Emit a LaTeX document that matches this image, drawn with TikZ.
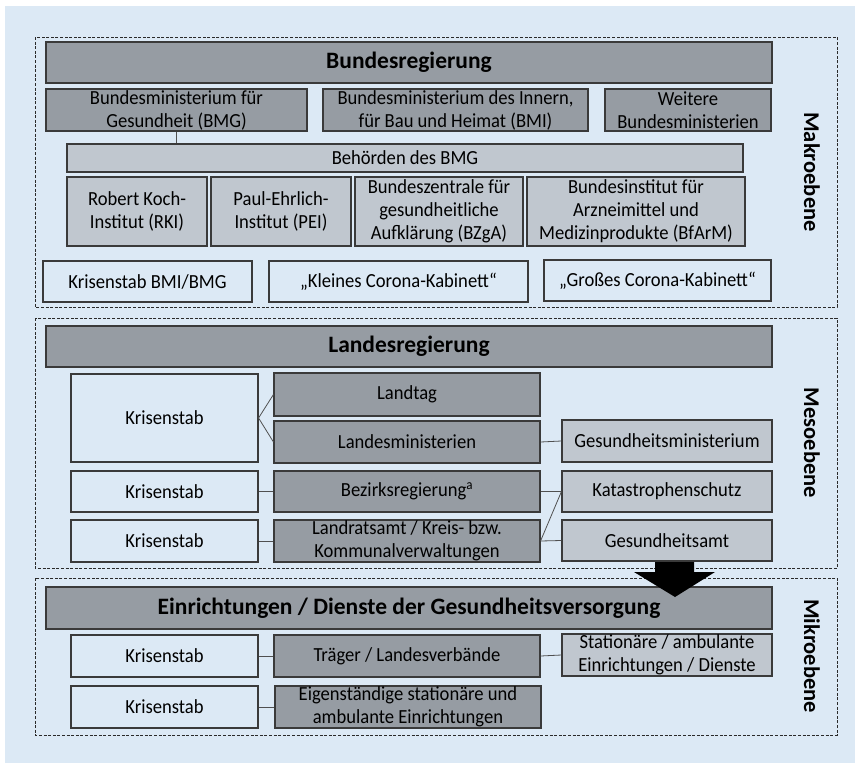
\documentclass[tikz,border=0pt]{standalone}
\usepackage{fontspec}
\setmainfont{Carlito}
\newfontfamily\bodyfont[FakeStretch=0.93]{Carlito}
\definecolor{bgc}{HTML}{DCE9F5}
\definecolor{darkc}{HTML}{969CA3}
\definecolor{lightc}{HTML}{C0C7CF}
\definecolor{bordc}{HTML}{3A3A3A}
\definecolor{framec}{HTML}{2A2A2A}
\definecolor{conc}{HTML}{505050}
\newcommand\fsbody{\bodyfont\fontsize{20}{23}\selectfont}
\newcommand\fshead{\fontsize{23.5}{28}\selectfont\bfseries}
\newcommand\fslab{\fontsize{22.5}{27}\selectfont\bfseries}
\tikzset{
  bx/.style={draw=bordc, line width=1.1pt, inner sep=0pt, align=center, font=\fsbody},
  dk/.style={bx, fill=darkc},
  lt/.style={bx, fill=lightc},
  wt/.style={bx},
  hd/.style={dk, font=\fshead},
  frame/.style={draw=framec, line width=0.9pt, dash pattern=on 3pt off 1.6pt},
  lbl/.style={font=\fslab, rotate=-90, inner sep=0pt},
  con/.style={draw=conc, line width=0.8pt},
}
\begin{document}
\begin{tikzpicture}[x=1pt, y=-1pt]
\useasboundingbox (0,0) rectangle (855,763);
\fill[bgc] (5,6) rectangle (855,763);
% frames
\draw[frame] (35,37) rectangle (837,307);
\draw[frame] (35,318) rectangle (837,568);
\draw[frame] (35,578) rectangle (837,735);
% Makroebene
\node[hd, minimum width=726pt, minimum height=41pt] (bund) at (409,62.5) {Bundesregierung};
\node[dk, minimum width=261pt, minimum height=42pt] (bmg) at (176.5,110) {Bundesministerium für\\Gesundheit (BMG)};
\node[dk, minimum width=265pt, minimum height=42pt] (bmi) at (455.5,110) {Bundesministerium des Innern,\\für Bau und Heimat (BMI)};
\node[dk, minimum width=166pt, minimum height=42pt] (weit) at (688,110) {Weitere\\Bundesministerien};
\node[lt, minimum width=676pt, minimum height=28pt] (beh) at (405,158) {Behörden des BMG};
\node[lt, minimum width=140pt, minimum height=69pt] (rki) at (137,211.5) {Robert Koch-\\Institut (RKI)};
\node[lt, minimum width=140pt, minimum height=69pt] (pei) at (281,211.5) {Paul-Ehrlich-\\Institut (PEI)};
\node[lt, minimum width=168pt, minimum height=69pt] (bzga) at (439,211.5) {Bundeszentrale für\\gesundheitliche\\Aufklärung (BZgA)};
\node[lt, minimum width=218pt, minimum height=69pt] (bfarm) at (636,211.5) {Bundesinstitut für\\Arzneimittel und\\Medizinprodukte (BfArM)};
\node[wt, minimum width=209pt, minimum height=41pt] (kbmi) at (147.5,281.5) {Krisenstab BMI/BMG};
\node[wt, minimum width=259pt, minimum height=41pt] (klein) at (398.5,281.5) {„Kleines Corona-Kabinett“};
\node[wt, minimum width=227pt, minimum height=41pt] (gross) at (657.5,280.5) {„Großes Corona-Kabinett“};
\node[lbl] (makro) at (812,172) {Makroebene};
\draw[con] (bmg.south) -- (bmg.south |- beh.north);
% Mesoebene
\node[hd, minimum width=726pt, minimum height=41pt] (land) at (409,346.5) {Landesregierung};
\node[wt, minimum width=187pt, minimum height=88pt] (kr1) at (164.5,418) {Krisenstab};
\node[dk, minimum width=266pt, minimum height=43pt] (ltag) at (407,394.5) {Landtag};
\node[dk, minimum width=266pt, minimum height=42pt] (lmin) at (407,442) {Landesministerien};
\node[wt, minimum width=187pt, minimum height=41pt] (kr2) at (164.5,491.5) {Krisenstab};
\node[dk, minimum width=266pt, minimum height=41pt] (bez) at (407,491.5) {Bezirksregierung\textsuperscript{a}};
\node[wt, minimum width=187pt, minimum height=42pt] (kr3) at (164.5,541) {Krisenstab};
\node[dk, minimum width=266pt, minimum height=42pt] (lrat) at (407,541) {Landratsamt / Kreis- bzw.\\Kommunalverwaltungen};
\node[lt, minimum width=210pt, minimum height=42pt] (gmin) at (667,441) {Gesundheitsministerium};
\node[lt, minimum width=210pt, minimum height=41pt] (kat) at (667,491.5) {Katastrophenschutz};
\node[lt, minimum width=210pt, minimum height=41pt] (gamt) at (667,540.5) {Gesundheitsamt};
\node[lbl] (meso) at (812,443) {Mesoebene};
\draw[con] (kr1.east) -- (ltag.west);
\draw[con] (kr1.east) -- (lmin.west);
\draw[con] (kr2.east) -- (bez.west);
\draw[con] (kr3.east) -- (lrat.west);
\draw[con] (lmin.east) -- (gmin.west);
\draw[con] (bez.east) -- (kat.west);
\draw[con] (lrat.east) -- (kat.west);
\draw[con] (lrat.east) -- (gamt.west);
% Mikroebene
\node[hd, minimum width=726pt, minimum height=42pt] (einr) at (409,608) {Einrichtungen / Dienste der Gesundheitsversorgung};
\node[wt, minimum width=187pt, minimum height=42pt] (km1) at (164.5,656) {Krisenstab};
\node[dk, minimum width=266pt, minimum height=42pt] (trag) at (407,656) {Träger / Landesverbände};
\node[lt, minimum width=210pt, minimum height=42pt] (stat) at (667,655) {Stationäre / ambulante\\Einrichtungen / Dienste};
\node[wt, minimum width=187pt, minimum height=42pt] (km2) at (164.5,707) {Krisenstab};
\node[dk, minimum width=266pt, minimum height=42pt] (eig) at (408,707) {Eigenständige stationäre und\\ambulante Einrichtungen};
\node[lbl] (mikro) at (812,656) {Mikroebene};
\draw[con] (km1.east) -- (trag.west);
\draw[con] (km2.east) -- (eig.west);
\draw[con] (trag.east) -- (stat.west);
% big arrow
\fill[black] (655,562) -- (694,562) -- (694,572) -- (715,572) -- (675,597) -- (634,572) -- (655,572) -- cycle;
\end{tikzpicture}
\end{document}
